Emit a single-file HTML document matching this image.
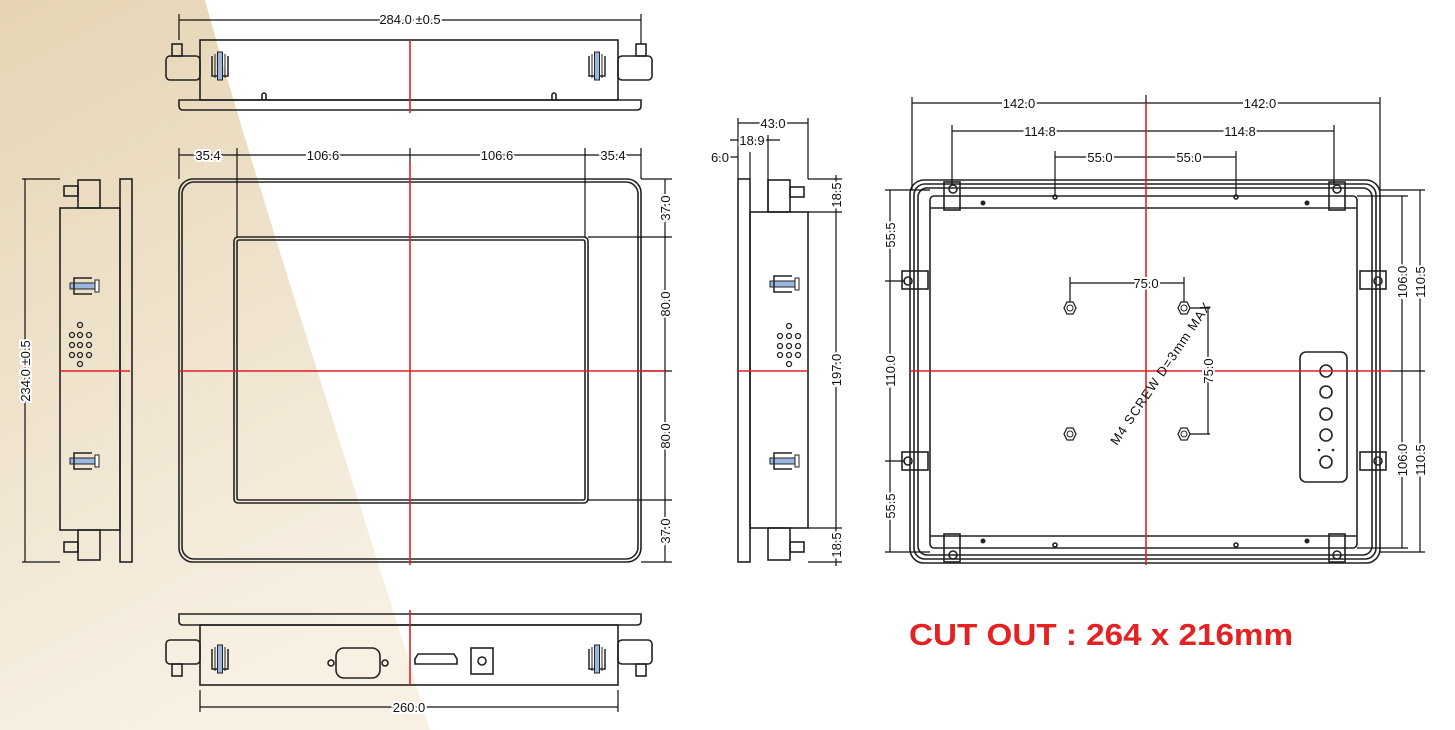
<!DOCTYPE html>
<html><head><meta charset="utf-8"><style>
html,body{margin:0;padding:0;background:#fff}
svg{display:block}
text{font-family:"Liberation Sans",sans-serif;font-size:13px;fill:#111}
</style></head><body>
<svg width="1455" height="730" viewBox="0 0 1455 730" xmlns="http://www.w3.org/2000/svg">
<defs>
<linearGradient id="bg" x1="0" y1="0" x2="0.3" y2="1">
<stop offset="0" stop-color="#e6d4b3"/><stop offset="1" stop-color="#f7f0e3"/>
</linearGradient>
<g id="clip"><path d="M-8,-10 V10 H8 V-10" fill="none" stroke="#222" stroke-width="1.5"/><line x1="-5" y1="-12" x2="-5" y2="12" stroke="#222"/><line x1="5" y1="-12" x2="5" y2="12" stroke="#222"/><rect x="-2.5" y="-14" width="5" height="28" fill="#9ab6e0" stroke="#222"/></g>
<g id="hclip"><rect x="-12" y="-3" width="26" height="6" fill="#9ab6e0" stroke="#222"/><path d="M10,-8 h-18 v16 h18" fill="none" stroke="#222" stroke-width="1.5"/><rect x="13" y="-6" width="4" height="12" fill="#fff" stroke="#222"/></g>
<g id="nut"><polygon points="-6,0 -3,-6 3,-6 6,0 3,6 -3,6" fill="#fff" stroke="#222" stroke-width="1.3"/><circle r="3" fill="none" stroke="#222"/></g>
</defs>
<path d="M0,0 L205,0 C260,200 360,500 430,730 L0,730 Z" fill="url(#bg)"/>

<g fill="none" stroke="#222" stroke-width="1.6">
<rect x="200" y="40" width="418" height="60"/>
<path d="M179,100 H641 V106 Q641,110 637,110 H183 Q179,110 179,106 Z"/>
<rect x="166" y="56" width="34" height="24" rx="4"/><rect x="618" y="56" width="34" height="24" rx="4"/>
<rect x="172" y="44" width="10" height="12"/><rect x="636" y="44" width="10" height="12"/>
<path d="M262,100 v-5 a2,2 0 0 1 4,0 v5 M552,100 v-5 a2,2 0 0 1 4,0 v5"/>
<rect x="179" y="179" width="462" height="383" rx="14"/>
<rect x="182" y="182" width="456" height="377" rx="12"/>
<rect x="234" y="237" width="354" height="266" rx="4"/>
<rect x="237" y="240" width="348" height="260" rx="2"/>
<path d="M179,614 H641 V621 Q641,625 637,625 H183 Q179,625 179,621 Z"/>
<rect x="200" y="625" width="418" height="60"/>
<rect x="166" y="640" width="34" height="24" rx="4"/><rect x="618" y="640" width="34" height="24" rx="4"/>
<rect x="172" y="664" width="10" height="12"/><rect x="636" y="664" width="10" height="12"/>
<rect x="336" y="648" width="44" height="30" rx="8"/><circle cx="331" cy="663" r="3"/><circle cx="385" cy="663" r="3"/>
<path d="M418,654 h36 l3,5 v5 h-42 v-5 z"/>
<rect x="471" y="648" width="22" height="26"/><circle cx="482" cy="661" r="4"/>
<rect x="120" y="179" width="12" height="383"/>
<rect x="60" y="208" width="60" height="322"/>
<rect x="78" y="180" width="22" height="28"/><rect x="78" y="530" width="22" height="30"/>
<rect x="64" y="186" width="14" height="10"/><rect x="64" y="542" width="14" height="10"/>
<rect x="738" y="179" width="12" height="383"/>
<rect x="750" y="212" width="58" height="316"/>
<rect x="768" y="180" width="22" height="32"/><rect x="768" y="528" width="22" height="32"/>
<rect x="790" y="187" width="14" height="10"/><rect x="790" y="542" width="14" height="10"/>
<rect x="910" y="180" width="470" height="383" rx="14"/>
<rect x="914" y="184" width="462" height="375" rx="11"/>
<rect x="918" y="188" width="454" height="367" rx="9"/>
<rect x="930" y="196" width="427" height="352" rx="4"/>
<line x1="930" y1="208" x2="1357" y2="208"/><line x1="930" y1="536" x2="1357" y2="536"/>
<rect x="944" y="182" width="16" height="28"/><rect x="1329" y="182" width="16" height="28"/>
<rect x="944" y="534" width="16" height="28"/><rect x="1329" y="534" width="16" height="28"/>
<rect x="902" y="271" width="26" height="18"/><rect x="1360" y="271" width="26" height="18"/>
<rect x="902" y="452" width="26" height="18"/><rect x="1360" y="452" width="26" height="18"/>
<rect x="1300" y="352" width="47" height="130" rx="6"/>
</g>
<g fill="none" stroke="#222" stroke-width="1.6">
<circle cx="953" cy="189" r="4"/><circle cx="1337" cy="189" r="4"/><circle cx="953" cy="555" r="4"/><circle cx="1337" cy="555" r="4"/>
<circle cx="908" cy="281" r="4"/><circle cx="1378" cy="281" r="4"/><circle cx="908" cy="461" r="4"/><circle cx="1378" cy="461" r="4"/>
<circle cx="1055" cy="197" r="2"/><circle cx="1236" cy="197" r="2"/><circle cx="1055" cy="545" r="2"/><circle cx="1236" cy="545" r="2"/>
<circle cx="1326" cy="371" r="6"/><circle cx="1326" cy="392" r="6"/><circle cx="1326" cy="414" r="6"/><circle cx="1326" cy="435" r="6"/><circle cx="1326" cy="462" r="6"/>
</g>
<g fill="#222"><circle cx="983" cy="203" r="2.5"/><circle cx="1307" cy="203" r="2.5"/><circle cx="983" cy="541" r="2.5"/><circle cx="1307" cy="541" r="2.5"/>
<circle cx="1319" cy="450" r="1.3"/><circle cx="1333" cy="450" r="1.3"/></g>
<use href="#nut" x="1070" y="308"/><use href="#nut" x="1184" y="308"/><use href="#nut" x="1070" y="434"/><use href="#nut" x="1184" y="434"/>
<use href="#clip" x="220" y="66"/><use href="#clip" x="597" y="66"/>
<use href="#clip" x="220" y="659"/><use href="#clip" x="597" y="659"/>
<use href="#hclip" x="82" y="286"/><use href="#hclip" x="82" y="461"/>
<use href="#hclip" x="782" y="284"/><use href="#hclip" x="782" y="461"/>
<g fill="none" stroke="#222" stroke-width="1.3">
<circle cx="80" cy="325" r="2.5"/><circle cx="72" cy="335" r="2.5"/><circle cx="80" cy="335" r="2.5"/><circle cx="89" cy="335" r="2.5"/><circle cx="72" cy="345" r="2.5"/><circle cx="80" cy="345" r="2.5"/><circle cx="89" cy="345" r="2.5"/><circle cx="72" cy="355" r="2.5"/><circle cx="80" cy="355" r="2.5"/><circle cx="89" cy="355" r="2.5"/><circle cx="80" cy="364" r="2.5"/>
<circle cx="789" cy="326" r="2.5"/><circle cx="780" cy="336" r="2.5"/><circle cx="789" cy="336" r="2.5"/><circle cx="798" cy="336" r="2.5"/><circle cx="780" cy="346" r="2.5"/><circle cx="789" cy="346" r="2.5"/><circle cx="798" cy="346" r="2.5"/><circle cx="780" cy="355" r="2.5"/><circle cx="789" cy="355" r="2.5"/><circle cx="798" cy="355" r="2.5"/><circle cx="789" cy="364" r="2.5"/>
</g>

<g stroke="#111" stroke-width="1.2" fill="none">
<path d="M179,14 V40 M641,14 V44 M179,20 H641"/>
<path d="M179,148 V179 M237,148 V237 M410,148 V162 M585,148 V237 M641,148 V179 M179,155 H641"/>
<path d="M641,179 H672 M588,237 H672 M641,371 H672 M588,500 H672 M641,562 H672 M665,179 V562"/>
<path d="M200,690 V712 M618,690 V712 M200,707 H618"/>
<path d="M22,179 H60 M22,562 H60 M25,179 V562"/>
<path d="M738,118 V179 M808,118 V179 M738,123 H808 M730,140 H780 M768,135 V212 M712,157 H738 M750,152 V179 M760,140 H740"/>
<path d="M808,179 H842 M808,212 H842 M808,528 H842 M808,562 H842 M836,175 V566"/>
<path d="M912,97 V190 M1380,97 V190 M912,103 H1380 M1146,95 V103"/>
<path d="M952,125 V185 M1334,125 V185 M952,131 H1334"/>
<path d="M1055,151 V195 M1236,151 V195 M1055,157 H1236"/>
<path d="M885,190 H930 M885,281 H905 M885,461 H905 M885,552 H930 M890,190 V552"/>
<path d="M1357,196 H1408 M1357,548 H1408 M1402,196 V548 M1380,190 H1425 M1380,552 H1425 M1420,190 V552 M1390,371 H1425"/>
<path d="M1070,277 V302 M1184,277 V302 M1070,283 H1184"/>
<path d="M1190,308 H1210 M1190,434 H1210 M1208,308 V434"/>
</g>
<g stroke="#e02020" stroke-width="1.6">
<line x1="410" y1="40" x2="410" y2="113"/>
<line x1="410" y1="162" x2="410" y2="565"/>
<line x1="179" y1="371" x2="665" y2="371"/>
<line x1="410" y1="610" x2="410" y2="685"/>
<line x1="60" y1="371" x2="130" y2="371"/>
<line x1="738" y1="371" x2="808" y2="371"/>
<line x1="1146" y1="103" x2="1146" y2="565"/>
<line x1="910" y1="371" x2="1390" y2="371"/>
</g>
<g stroke="#fff" stroke-width="4" style="paint-order:stroke" text-anchor="middle">
<text x="410" y="24">284.0 ±0.5</text>
<text x="208" y="160">35.4</text>
<text x="323" y="160">106.6</text>
<text x="497" y="160">106.6</text>
<text x="613" y="160">35.4</text>
<text transform="translate(670,208) rotate(-90)">37.0</text>
<text transform="translate(670,304) rotate(-90)">80.0</text>
<text transform="translate(670,436) rotate(-90)">80.0</text>
<text transform="translate(670,531) rotate(-90)">37.0</text>
<text x="409" y="712">260.0</text>
<text transform="translate(30,371) rotate(-90)">234.0 ±0.5</text>
<text x="773" y="128">43.0</text>
<text x="752" y="145">18.9</text>
<text x="720" y="162">6.0</text>
<text transform="translate(841,195) rotate(-90)">18.5</text>
<text transform="translate(841,370) rotate(-90)">197.0</text>
<text transform="translate(841,545) rotate(-90)">18.5</text>
<text x="1019" y="108">142.0</text>
<text x="1260" y="108">142.0</text>
<text x="1040" y="136">114.8</text>
<text x="1240" y="136">114.8</text>
<text x="1100" y="162">55.0</text>
<text x="1189" y="162">55.0</text>
<text transform="translate(895,235) rotate(-90)">55.5</text>
<text transform="translate(895,371) rotate(-90)">110.0</text>
<text transform="translate(895,506) rotate(-90)">55.5</text>
<text transform="translate(1407,282) rotate(-90)">106.0</text>
<text transform="translate(1407,460) rotate(-90)">106.0</text>
<text transform="translate(1425,282) rotate(-90)">110.5</text>
<text transform="translate(1425,460) rotate(-90)">110.5</text>
<text x="1146" y="288">75.0</text>
<text transform="translate(1213,371) rotate(-90)">75.0</text>
</g>
<text transform="translate(1117,446) rotate(-56)" font-size="13" letter-spacing="1">M4 SCREW D=3mm MAX</text>
<text x="909" y="645" textLength="384" lengthAdjust="spacingAndGlyphs" style="font-size:31px;font-weight:bold;fill:#e52222">CUT OUT : 264 x 216mm</text>
</svg>
</body></html>
